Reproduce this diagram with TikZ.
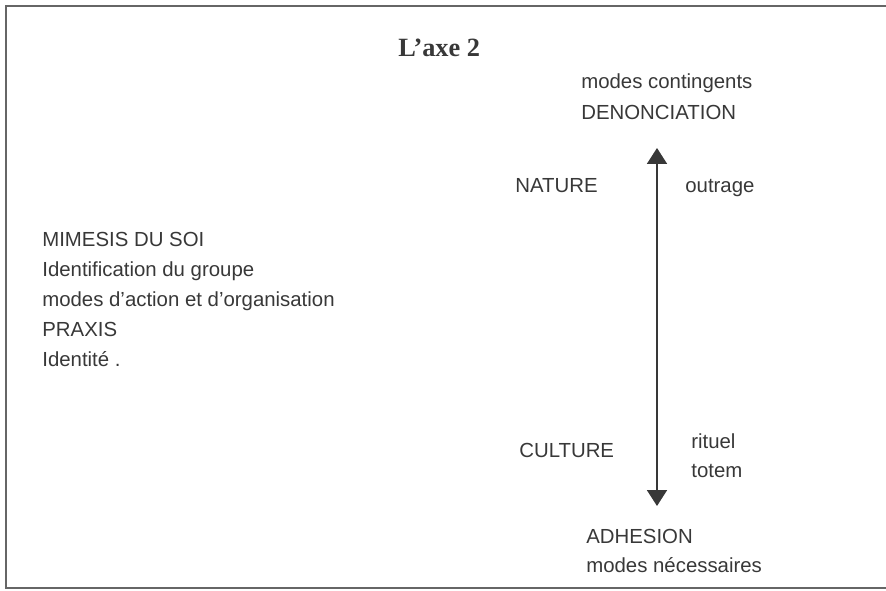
\documentclass[tikz,border=0pt]{standalone}
\usepackage{fontspec}
\setmainfont{Liberation Serif}
\setsansfont{Liberation Sans}
\usepackage{tikz}
\usetikzlibrary{positioning,arrows.meta}
\definecolor{ink}{gray}{0.22}
\tikzset{
	txt/.style={anchor=base west, inner sep=0pt, text=ink, font=\sffamily\fontsize{11.6}{14}\selectfont},
	titre/.style={anchor=base west, inner sep=0pt, text=ink, font=\rmfamily\bfseries\fontsize{15}{18}\selectfont},
	axe/.style={draw=ink, line width=1.1pt, {Triangle[width=0.4cm,length=0.32cm]}-{Triangle[width=0.4cm,length=0.32cm]}},
	cadre/.style={draw=black!60, line width=1.1pt}
}

\begin{document}
\begin{tikzpicture}[x=0.02cm, y=-0.02cm]
	\useasboundingbox (0,0) rectangle (886,591);
	\draw[cadre] (886,6) -- (6,6) -- (6,588) -- (886,588);

	\node[titre] (title) at (398,57) {L’axe 2};

	% pole haut
	\node[txt] (contingents) at (581,89) {modes contingents};
	\node[txt, below=0.62cm of contingents.base west, anchor=base west] (denonciation) {DENONCIATION};

	% axe vertical
	\coordinate (haut) at (657,148);
	\coordinate (bas) at (657,506);
	\draw[axe] (bas) -- (haut);

	\node[txt] (nature) at (515,193) {NATURE};
	\node[txt] (outrage) at (685,193) {outrage};

	\node[txt] (culture) at (519,457) {CULTURE};
	\node[txt] (rituel) at (691,448) {rituel};
	\node[txt, below=0.6cm of rituel.base west, anchor=base west] (totem) {totem};

	% pole bas
	\node[txt] (adhesion) at (586,543) {ADHESION};
	\node[txt, below=0.6cm of adhesion.base west, anchor=base west] (necessaires) {modes nécessaires};

	% bloc gauche
	\node[txt] (mimesis) at (42,247) {MIMESIS DU SOI};
	\node[txt, below=0.6cm of mimesis.base west, anchor=base west] (groupe) {Identification du groupe};
	\node[txt, below=0.6cm of groupe.base west, anchor=base west] (modes) {modes d’action et d’organisation};
	\node[txt, below=0.6cm of modes.base west, anchor=base west] (praxis) {PRAXIS};
	\node[txt, below=0.6cm of praxis.base west, anchor=base west] (identite) {Identité .};
\end{tikzpicture}
\end{document}
